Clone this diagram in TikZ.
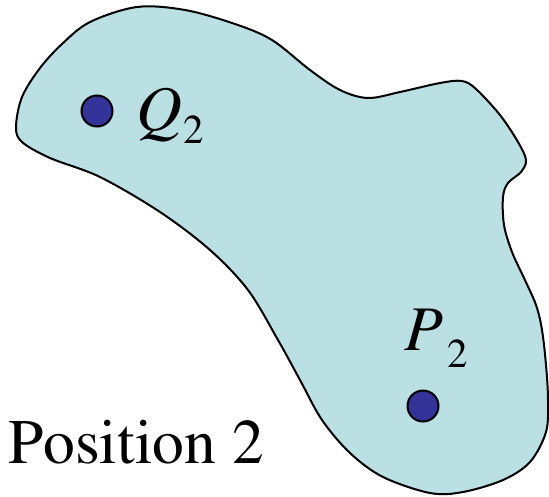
\documentclass[tikz,border=0pt]{standalone}
\usepackage[T1]{fontenc}
\usepackage{mathptmx}
\definecolor{blobfill}{HTML}{BBE0E3}
\definecolor{dotfill}{HTML}{333399}
\begin{document}
\begin{tikzpicture}[x=1pt,y=-1pt,
  blob/.style={draw=black,line width=2pt,fill=blobfill},
  pt/.style={circle,draw=black,line width=2pt,fill=dotfill,minimum size=31pt,inner sep=0pt},
  lbl/.style={anchor=base west,inner sep=0pt,font=\fontfamily{ptm}\fontsize{63.5}{70}\selectfont},
  sub/.style={anchor=base west,inner sep=0pt,font=\fontfamily{ptm}\fontsize{41}{46}\selectfont}]
\useasboundingbox (0,0) rectangle (549,496);
\draw[blob] plot[smooth cycle,tension=0.55] coordinates {
 (16,127) (22,97) (40,68) (62,44) (90,22) (137,7) (185,10) (235,24)
 (272,40) (310,70) (340,90) (368,98) (400,92) (440,83) (462,81) (476,89)
 (500,115) (518,142) (526,160) (521,172) (508,183) (503,197) (504,225)
 (512,252) (524,278) (536,305) (542,330) (546,365) (548,400) (546,432)
 (530,462) (503,480) (463,492) (430,493) (383,477) (350,453) (322,420)
 (300,380) (278,340) (248,290) (210,250) (160,212) (100,177) (50,158) (22,142)};
\node[pt] (q) at (97,111) {};
\node[pt] (p) at (423,406) {};
\node[lbl] (qlab) at (136,130) {\itshape Q};
\node[sub] (qsub) at (183,143) {2};
\node[lbl] (plab) at (404,350) {\itshape P};
\node[sub] (psub) at (447,367) {2};
\node[lbl] (pos) at (8,463) {Position 2};
\end{tikzpicture}
\end{document}
